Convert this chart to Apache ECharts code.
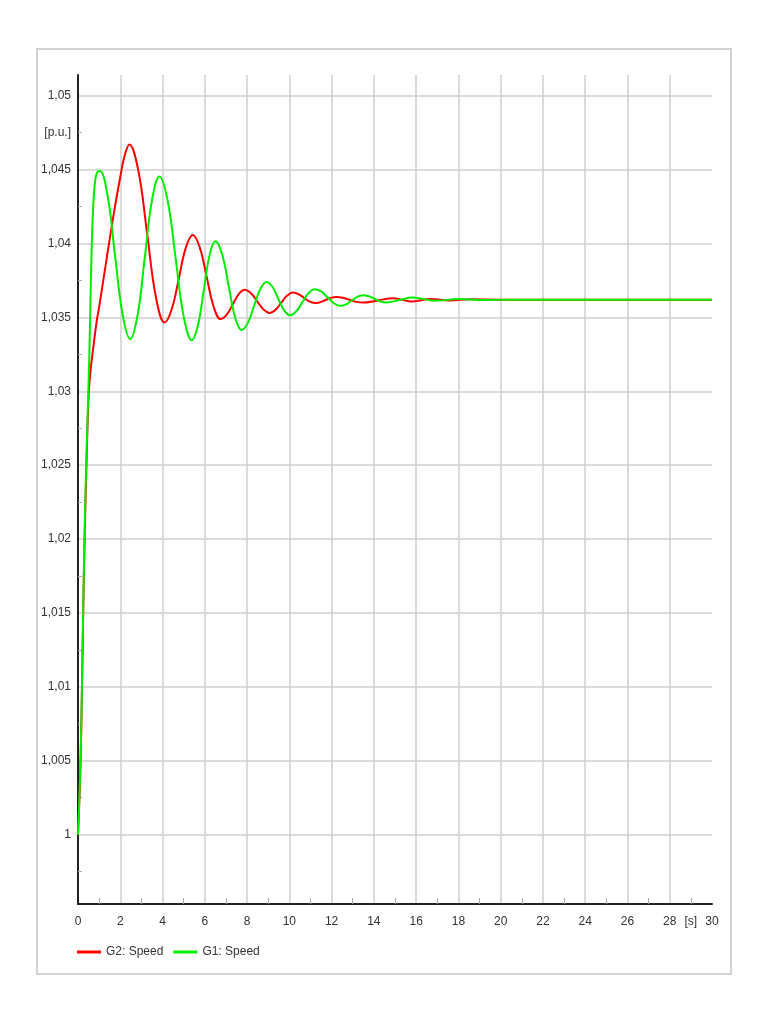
<!DOCTYPE html>
<html>

<head>
    <meta charset="utf-8">
    <script src="https://cdn.jsdelivr.net/npm/echarts/dist/echarts.min.js"></script>
    <style>
        html, body { margin: 0; padding: 0; background: #fff; }
    </style>
</head>

<body>
    <div id="main" style="width:768px;height:1024px;"></div>

    <script>
        // G2: Speed (red)
        var g2Time = [0, 0.12, 0.2, 0.3, 0.4, 0.5, 0.58, 0.7, 0.88, 1.0, 1.25, 1.5, 1.75, 2.0, 2.2, 2.43,
            2.85, 3.27, 3.68, 4.1, 4.43, 4.77, 5.1, 5.43, 5.76, 6.09, 6.42, 6.75, 7.04, 7.32, 7.61, 7.89,
            8.18, 8.48, 8.78, 9.07, 9.35, 9.62, 9.9, 10.17, 10.43, 10.69, 10.94, 11.2, 11.46, 11.71, 11.97,
            12.22, 12.53, 12.85, 13.16, 13.48, 14.19, 14.9, 15.33, 15.77, 16.7, 17.6, 18.6, 20, 22, 25, 30];
        var g2Speed = [1.0, 1.0048, 1.011, 1.0192, 1.025, 1.0296, 1.0312, 1.0327, 1.0347, 1.0357, 1.038, 1.0403, 1.0425, 1.0445, 1.0459, 1.0467,
            1.04497, 1.0407, 1.03643, 1.03466, 1.03553, 1.03762, 1.0397, 1.04057, 1.03974, 1.03773, 1.03572, 1.03489, 1.03518, 1.03588, 1.03658, 1.03687,
            1.03664, 1.03609, 1.03553, 1.0353, 1.03551, 1.036, 1.03648, 1.03669, 1.03658, 1.03633, 1.03608, 1.03597, 1.03603, 1.03618, 1.03632,
            1.03638, 1.03633, 1.03619, 1.03605, 1.036, 1.03615, 1.0363, 1.03619, 1.03608, 1.03625, 1.03615, 1.03622, 1.0362, 1.0362, 1.0362, 1.0362];

        // G1: Speed (green)
        var g1Time = [0, 0.12, 0.2, 0.3, 0.4, 0.5, 0.56, 0.64, 0.72, 0.8, 0.9, 1.04, 1.4, 1.75, 2.11, 2.47,
            2.82, 3.16, 3.5, 3.85, 4.24, 4.62, 5.0, 5.39, 5.67, 5.95, 6.22, 6.5, 6.82, 7.13, 7.44, 7.74,
            8.04, 8.33, 8.63, 8.92, 9.2, 9.47, 9.75, 10.02, 10.32, 10.62, 10.91, 11.21, 11.52, 11.82, 12.13,
            12.43, 12.69, 12.96, 13.22, 13.48, 13.76, 14.04, 14.31, 14.59, 15.22, 15.85, 16.9, 18.0, 19.2, 20.5, 22, 25, 30];
        var g1Speed = [1.0, 1.005, 1.0112, 1.0197, 1.0257, 1.0305, 1.034, 1.0393, 1.0425, 1.0441, 1.0448, 1.0449, 1.04324, 1.03922, 1.0352, 1.03354,
            1.03516, 1.03904, 1.04292, 1.04453, 1.04291, 1.03899, 1.03507, 1.03345, 1.03443, 1.03681, 1.03918, 1.04016, 1.03927, 1.03712, 1.03497, 1.03415,
            1.03463, 1.03578, 1.03692, 1.0374, 1.03707, 1.03628, 1.03548, 1.03515, 1.0354, 1.03603, 1.03664, 1.0369, 1.03674, 1.03634, 1.03594,
            1.03578, 1.03589, 1.03614, 1.03639, 1.0365, 1.03643, 1.03626, 1.03608, 1.03601, 1.03618, 1.03635, 1.03612, 1.03625, 1.03617, 1.0362, 1.0362, 1.0362, 1.0362];

        // axis ticks
        var yMajor = [1.0, 1.005, 1.01, 1.015, 1.02, 1.025, 1.03, 1.035, 1.04, 1.045, 1.05];
        var yMinor = [0.9975, 1.0025, 1.0075, 1.0125, 1.0175, 1.0225, 1.0275, 1.0325, 1.0375, 1.0425, 1.0475];
        var yUnitAt = [1.0475];
        var xLabels = [0, 2, 4, 6, 8, 10, 12, 14, 16, 18, 20, 22, 24, 26, 28, 29, 30];

        function pairs(t, v) {
            return t.map(function (x, i) { return [x, v[i]]; });
        }

        var font = '"Liberation Sans Narrow", "Liberation Sans", Arial, sans-serif';
        var gridColor = '#cfcfcf';

        var myChart = echarts.init(document.getElementById('main'));
        var option = {
            animation: false,
            backgroundColor: '#fff',
            textStyle: { fontFamily: font },
            graphic: [{
                type: 'rect',
                silent: true,
                z: -10,
                shape: { x: 37, y: 49, width: 694, height: 925 },
                style: { fill: 'none', stroke: '#d2d2d2', lineWidth: 2 }
            }],
            grid: {
                left: 78,
                right: 56,
                top: 75,
                bottom: 120,
                containLabel: false
            },
            legend: {
                left: 77,
                top: 946,
                padding: 0,
                icon: 'rect',
                itemWidth: 24,
                itemHeight: 3,
                itemGap: 10,
                textStyle: { fontFamily: font, fontSize: 12, color: '#333' },
                data: ['G2: Speed', 'G1: Speed']
            },
            xAxis: {
                type: 'value',
                min: 0,
                max: 30,
                interval: 2,
                axisLine: { lineStyle: { color: '#222', width: 2 } },
                axisTick: { show: false, inside: true },
                minorTick: { show: true, splitNumber: 2, length: 6, lineStyle: { color: '#aaa', width: 1 } },
                minorSplitLine: { show: false },
                splitLine: { show: true, showMinLine: false, showMaxLine: false, lineStyle: { color: gridColor, width: 1.5 } },
                axisLabel: {
                    customValues: xLabels,
                    margin: 12,
                    color: '#333',
                    fontSize: 12,
                    fontFamily: font,
                    formatter: function (v) { return v === 29 ? '[s]' : String(v); }
                }
            },
            yAxis: [{
                type: 'value',
                min: 0.99531,
                max: 1.0514,
                axisLine: { show: true, lineStyle: { color: '#222', width: 2 } },
                axisTick: { show: false, customValues: yMajor },
                splitLine: { show: true, lineStyle: { color: gridColor, width: 1.5 } },
                axisLabel: {
                    customValues: yMajor,
                    margin: 7,
                    color: '#333',
                    fontSize: 12,
                    fontFamily: font,
                    formatter: function (v) { return String(+v.toFixed(3)).replace('.', ','); }
                }
            }, {
                type: 'value',
                position: 'left',
                min: 0.99531,
                max: 1.0514,
                axisLine: { show: false },
                axisTick: { show: true, inside: true, length: 4, customValues: yMinor, lineStyle: { color: '#aaa' } },
                splitLine: { show: false },
                axisLabel: {
                    customValues: yUnitAt,
                    margin: 7,
                    color: '#333',
                    fontSize: 12,
                    fontFamily: font,
                    formatter: function () { return '[p.u.]'; }
                }
            }],
            series: [{
                name: 'G2: Speed',
                type: 'line',
                yAxisIndex: 0,
                smooth: 0.4,
                symbol: 'none',
                color: '#ff0000',
                lineStyle: { color: '#ff0000', width: 2 },
                data: pairs(g2Time, g2Speed)
            }, {
                name: 'G1: Speed',
                type: 'line',
                yAxisIndex: 0,
                smooth: 0.4,
                symbol: 'none',
                color: '#00ee00',
                lineStyle: { color: '#00ee00', width: 2 },
                data: pairs(g1Time, g1Speed)
            }]
        };

        myChart.setOption(option);
    </script>
</body>

</html>
